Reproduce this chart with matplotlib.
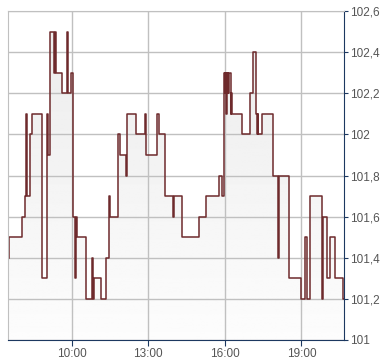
import matplotlib
matplotlib.use("Agg")
import matplotlib.pyplot as plt
import numpy as np

plt.rcParams["font.family"] = ["Liberation Sans", "DejaVu Sans"]

# intraday quotes (step changes)
times = ["07:32", "07:33", "08:02", "08:10", "08:13", "08:15", "08:22", "08:26",
         "08:51", "09:02", "09:05", "09:08", "09:09", "09:19", "09:20", "09:24",
         "09:36", "09:48", "09:52", "09:57", "10:02", "10:04", "10:08", "10:10",
         "10:12", "10:33", "10:48", "10:51", "10:52", "11:08", "11:21", "11:28",
         "11:30", "11:48", "11:49", "11:54", "12:08", "12:10", "12:32", "12:51",
         "12:54", "13:20", "13:26", "13:39", "13:59", "14:00", "14:20", "14:58",
         "15:16", "15:47", "15:54", "15:59", "16:00", "16:01", "16:03", "16:04",
         "16:05", "16:07", "16:08", "16:10", "16:14", "16:15", "16:17", "16:41",
         "17:00", "17:07", "17:13", "17:16", "17:17", "17:18", "17:28", "17:54",
         "18:04", "18:06", "18:30", "19:00", "19:09", "19:12", "19:20", "19:48",
         "19:50", "20:01", "20:06", "20:18", "20:37", "20:40"]
prices = [101.4, 101.5, 101.6, 101.7, 102.1, 101.7, 102.0, 102.1,
          101.3, 102.1, 101.9, 102.2, 102.5, 102.3, 102.5, 102.3,
          102.2, 102.5, 102.2, 102.3, 101.9, 101.6, 101.3, 101.6,
          101.5, 101.2, 101.4, 101.2, 101.3, 101.2, 101.4, 101.7,
          101.6, 101.9, 102.0, 101.9, 101.8, 102.1, 102.0, 102.1,
          101.9, 102.1, 102.0, 101.7, 101.6, 101.7, 101.5, 101.6,
          101.7, 101.8, 101.7, 102.3, 102.2, 102.3, 102.1, 102.3,
          102.2, 102.3, 102.2, 102.3, 102.1, 102.2, 102.1, 102.0,
          102.2, 102.4, 102.1, 102.0, 102.1, 102.0, 102.1, 101.8,
          101.4, 101.8, 101.3, 101.2, 101.5, 101.2, 101.7, 101.2,
          101.6, 101.3, 101.5, 101.3, 101.2, 101.2]

x_ticks = [10, 13, 16, 19]
x_labels = ["10:00", "13:00", "16:00", "19:00"]
y_ticks = [101.0, 101.2, 101.4, 101.6, 101.8, 102.0, 102.2, 102.4, 102.6]

hours = np.array([int(t[:2]) + int(t[3:]) / 60 for t in times])
vals = np.array(prices)

fig = plt.figure(figsize=(3.9, 3.64), dpi=100)
ax = fig.add_axes([8 / 390, 1 - 340 / 364, 336 / 390, 329 / 364])
ax.set_xlim(7.5, 20 + 40 / 60)
ax.set_ylim(101.0, 102.6)

# gradient fill under the step line
poly = ax.fill_between(hours, vals, 101.0, step="post", facecolor="none", edgecolor="none")
grad = np.linspace(0.99, 0.92, 256).reshape(-1, 1)
im = ax.imshow(grad, extent=[7.5, 20.67, 101.0, 102.6], origin="lower", aspect="auto",
               cmap="gray", vmin=0, vmax=1, zorder=1)
im.set_clip_path(poly.get_paths()[0], transform=ax.transData)

ax.step(hours, vals, where="post", color="#6e2a2c", lw=1.1, zorder=3)

ax.set_xticks(x_ticks)
ax.set_xticklabels(x_labels)
ax.set_yticks(y_ticks)
ax.set_yticklabels([("%g" % v).replace(".", ",") for v in y_ticks])
ax.grid(True, color="#c0c0c0", lw=1, zorder=2)
for gl in ax.get_xgridlines() + ax.get_ygridlines():
    gl.set_zorder(2)

ax.yaxis.tick_right()
navy = "#1c3860"
ax.tick_params(axis="y", colors=navy, labelcolor="#555555", labelsize=8.5, length=3, pad=1)
ax.tick_params(axis="x", colors=navy, labelcolor="#555555", labelsize=8.5, length=4, pad=2)
for s in ["left", "top"]:
    ax.spines[s].set_color("#c0c0c0")
for s in ["right", "bottom"]:
    ax.spines[s].set_color(navy)
for s in ax.spines.values():
    s.set_zorder(4)

fig.savefig("out.png", dpi=100)
